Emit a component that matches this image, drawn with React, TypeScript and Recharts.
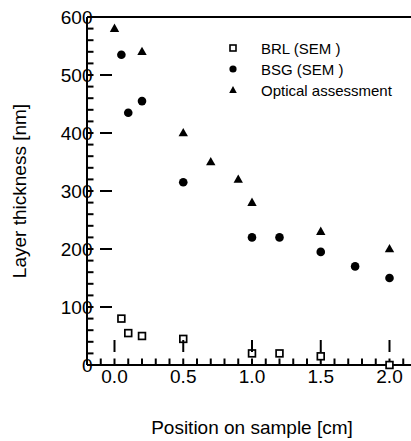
import { ScatterChart, Scatter, XAxis, YAxis, Legend } from 'recharts'

// position on sample [cm]
const brlX = [0.05, 0.1, 0.2, 0.5, 1.0, 1.2, 1.5, 2.0]
const brlY = [80, 55, 50, 45, 20, 20, 15, 0]

const bsgX = [0.05, 0.1, 0.2, 0.5, 1.0, 1.2, 1.5, 1.75, 2.0]
const bsgY = [535, 435, 455, 315, 220, 220, 195, 170, 150]

const opticalX = [0.0, 0.2, 0.5, 0.7, 0.9, 1.0, 1.5, 2.0]
const opticalY = [580, 540, 400, 350, 320, 280, 230, 200]

const xDomain = [-0.2, 2.2]
const yDomain = [0, 600]
const xMajorTicks = [0, 0.5, 1.0, 1.5, 2.0]
const xTickLabels = ['0.0', '0.5', '1.0', '1.5', '2.0']
const yMajorTicks = [0, 100, 200, 300, 400, 500, 600]

const xMinorTicks = Array.from({ length: 25 }, (_, i) => Math.round((i - 2) * 10) / 100)
const yMinorTicks = Array.from({ length: 31 }, (_, i) => i * 20)

const FONT = '"Liberation Sans", Arial, Helvetica, sans-serif'
const INK = '#000'

const toPoints = (xs: number[], ys: number[]) => xs.map((x, i) => ({ x, y: ys[i] }))

const brl = toPoints(brlX, brlY)
const bsg = toPoints(bsgX, bsgY)
const optical = toPoints(opticalX, opticalY)

const isMajor = (v: number, majors: number[]) => majors.some((m) => Math.abs(m - v) < 1e-6)

const Square = (props: any) => {
  const { cx, cy } = props
  return <rect x={cx - 3.4} y={cy - 3.4} width={6.8} height={6.8} fill="#fff" stroke={INK} strokeWidth={1.7} />
}
const Dot = (props: any) => <circle cx={props.cx} cy={props.cy} r={4.3} fill={INK} />
const Tri = (props: any) => {
  const { cx, cy } = props
  return <polygon points={`${cx},${cy - 5} ${cx - 4.7},${cy + 3.3} ${cx + 4.7},${cy + 3.3}`} fill={INK} />
}

// tickSize is negative so recharts draws the short ticks inward; majors get a longer mark here
const BottomTick = (props: any) => {
  const { x, y, payload } = props
  const idx = xMajorTicks.findIndex((m) => Math.abs(m - payload.value) < 1e-6)
  if (idx < 0) return <g />
  const axisY = y - 6.5
  return (
    <g>
      <line x1={x} x2={x} y1={axisY} y2={axisY - 12} stroke={INK} strokeWidth={2} />
      <text x={x} y={axisY + 31} textAnchor="middle" fontSize={19} fontFamily={FONT} fill={INK}>
        {xTickLabels[idx]}
      </text>
    </g>
  )
}

const TopTick = (props: any) => {
  const { x, y, payload } = props
  if (!isMajor(payload.value, xMajorTicks)) return <g />
  const axisY = y + 6.5
  return <line x1={x} x2={x} y1={axisY} y2={axisY + 12} stroke={INK} strokeWidth={2} />
}

const LeftTick = (props: any) => {
  const { x, y, payload } = props
  if (!isMajor(payload.value, yMajorTicks)) return <g />
  const axisX = x + 6.5
  return (
    <g>
      <line x1={axisX} x2={axisX + 12} y1={y} y2={y} stroke={INK} strokeWidth={2} />
      <text x={axisX - 7.5} y={y} dy="0.36em" textAnchor="end" fontSize={19} fontFamily={FONT} fill={INK}>
        {payload.value}
      </text>
    </g>
  )
}

const RightTick = (props: any) => {
  const { x, y, payload } = props
  if (!isMajor(payload.value, yMajorTicks)) return <g />
  const axisX = x - 6.5
  return <line x1={axisX} x2={axisX - 12} y1={y} y2={y} stroke={INK} strokeWidth={2} />
}

const series = [
  { name: 'BRL (SEM )', marker: 'square' },
  { name: 'BSG (SEM )', marker: 'circle' },
  { name: 'Optical assessment', marker: 'triangle' },
]

const LegendBox = () => (
  <div style={{ fontFamily: FONT, fontSize: 15, color: INK }}>
    {series.map((s) => (
      <div key={s.name} style={{ display: 'flex', alignItems: 'center', height: 21 }}>
        <svg width={14} height={14}>
          {s.marker === 'square' && <rect x={4} y={4} width={6} height={6} fill="#fff" stroke={INK} strokeWidth={1.6} />}
          {s.marker === 'circle' && <circle cx={7} cy={7} r={3.6} fill={INK} />}
          {s.marker === 'triangle' && <polygon points="7,3 3.2,10 10.8,10" fill={INK} />}
        </svg>
        <span style={{ marginLeft: 21, whiteSpace: 'nowrap' }}>{s.name}</span>
      </div>
    ))}
  </div>
)

const axisStyle = { stroke: INK, strokeWidth: 2 }

export default function App() {
  return (
    <div style={{ position: 'absolute', top: 0, left: 0, width: 411, height: 441, overflow: 'hidden' }}>
      <ScatterChart width={430} height={441} margin={{ top: 7, right: 8, bottom: 0, left: 27 }}>
        <XAxis
          type="number"
          dataKey="x"
          domain={xDomain}
          ticks={xMinorTicks}
          interval={0}
          tickSize={-6.5}
          tickMargin={0}
          tick={<BottomTick />}
          tickLine={axisStyle}
          axisLine={axisStyle}
          height={76}
          label={{
            content: (p: any) => {
              const vb = p.viewBox
              return (
                <text x={vb.x + vb.width / 2} y={434} textAnchor="middle" fontSize={19} fontFamily={FONT} fill={INK}>
                  Position on sample [cm]
                </text>
              )
            },
          }}
        />
        <XAxis
          xAxisId="top"
          orientation="top"
          type="number"
          domain={xDomain}
          ticks={xMinorTicks}
          interval={0}
          tickSize={-6.5}
          tickMargin={0}
          tick={<TopTick />}
          tickLine={axisStyle}
          axisLine={axisStyle}
          height={10}
        />
        <YAxis
          type="number"
          dataKey="y"
          domain={yDomain}
          ticks={yMinorTicks}
          interval={0}
          tickSize={-6.5}
          tickMargin={0}
          tick={<LeftTick />}
          tickLine={axisStyle}
          axisLine={axisStyle}
          width={60}
          label={{
            content: (p: any) => {
              const vb = p.viewBox
              const cy = vb.y + vb.height / 2
              return (
                <text
                  x={25.5}
                  y={cy}
                  transform={`rotate(-90 25.5 ${cy})`}
                  textAnchor="middle"
                  fontSize={19}
                  fontFamily={FONT}
                  fill={INK}
                >
                  Layer thickness  [nm]
                </text>
              )
            },
          }}
        />
        <YAxis
          yAxisId="right"
          orientation="right"
          type="number"
          domain={yDomain}
          ticks={yMinorTicks}
          interval={0}
          tickSize={-6.5}
          tickMargin={0}
          tick={<RightTick />}
          tickLine={axisStyle}
          axisLine={axisStyle}
          width={5}
        />
        <Legend
          verticalAlign="middle"
          align="center"
          content={<LegendBox />}
          wrapperStyle={{ top: 37.5, left: 226, width: 'auto', height: 'auto' }}
        />
        <Scatter name="BRL (SEM )" data={brl} shape={<Square />} isAnimationActive={false} />
        <Scatter name="BSG (SEM )" data={bsg} shape={<Dot />} isAnimationActive={false} />
        <Scatter name="Optical assessment" data={optical} shape={<Tri />} isAnimationActive={false} />
      </ScatterChart>
    </div>
  )
}
